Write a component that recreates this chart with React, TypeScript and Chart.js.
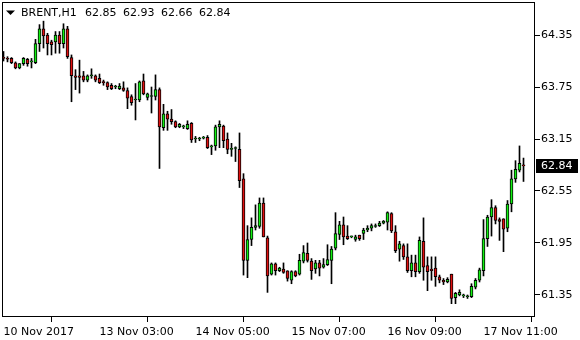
import { useEffect, useRef } from 'react';
import { Chart, registerables } from 'chart.js';

Chart.register(...registerables);

const SYMBOL = 'BRENT,H1';

const opens = [
  64.09, 64.08, 64.08, 64.03, 63.97, 64.02, 64.07, 64.04, 64.03, 64.25,
  64.42, 64.35, 64.27, 64.27, 64.35, 64.25, 64.42, 64.09, 63.88, 63.88,
  63.88, 63.83, 63.88, 63.88, 63.85, 63.81, 63.80, 63.77, 63.75, 63.73,
  63.74, 63.71, 63.64, 63.60, 63.60, 63.82, 63.63, 63.64, 63.64, 63.72,
  63.28, 63.44, 63.38, 63.35, 63.29, 63.29, 63.27, 63.33, 63.15, 63.15,
  63.16, 63.17, 63.06, 63.07, 63.29, 63.30, 63.15, 63.03, 63.04, 63.03,
  62.69, 61.75, 61.99, 62.13, 62.14, 62.41, 62.01, 61.59, 61.71, 61.63,
  61.65, 61.63, 61.52, 61.62, 61.59, 61.74, 61.83, 61.74, 61.65, 61.72,
  61.67, 61.70, 61.75, 61.89, 62.05, 62.16, 62.03, 62.02, 61.99, 62.04,
  62.06, 62.10, 62.12, 62.14, 62.15, 62.18, 62.19, 62.29, 62.08, 61.88,
  61.92, 61.79, 61.63, 61.72, 61.62, 61.97, 61.69, 61.65, 61.66, 61.56,
  61.52, 61.50, 61.59, 61.32, 61.35, 61.34, 61.33, 61.33, 61.44, 61.52,
  61.63, 62.00, 62.25, 62.36, 62.22, 62.23, 62.12, 62.40, 62.69, 62.79,
  62.85,
];
const highs = [
  64.16, 64.10, 64.09, 64.04, 64.02, 64.09, 64.08, 64.08, 64.30, 64.47,
  64.51, 64.37, 64.29, 64.39, 64.39, 64.48, 64.45, 64.12, 63.95, 64.06,
  63.93, 63.89, 63.96, 63.89, 63.90, 63.83, 63.81, 63.79, 63.77, 63.79,
  63.81, 63.74, 63.66, 63.79, 63.82, 63.90, 63.68, 63.75, 63.89, 63.74,
  63.55, 63.47, 63.49, 63.36, 63.33, 63.31, 63.36, 63.34, 63.18, 63.17,
  63.18, 63.19, 63.08, 63.31, 63.36, 63.31, 63.22, 63.10, 63.06, 63.22,
  62.75, 62.15, 62.24, 62.39, 62.47, 62.47, 62.03, 61.72, 61.72, 61.67,
  61.72, 61.63, 61.63, 61.63, 61.82, 61.92, 61.95, 61.77, 61.75, 61.75,
  61.77, 61.93, 61.91, 62.30, 62.20, 62.25, 62.15, 62.03, 62.04, 62.04,
  62.12, 62.15, 62.17, 62.17, 62.20, 62.21, 62.31, 62.30, 62.15, 61.97,
  61.94, 61.94, 61.81, 61.81, 62.02, 62.24, 61.79, 61.79, 61.79, 61.58,
  61.54, 61.55, 61.59, 61.38, 61.41, 61.36, 61.35, 61.48, 61.54, 61.66,
  62.22, 62.27, 62.45, 62.38, 62.24, 62.23, 62.44, 62.79, 62.90, 63.07,
  62.93,
];
const lows = [
  64.05, 64.04, 64.02, 63.96, 63.96, 64.00, 63.99, 63.97, 64.02, 64.16,
  64.20, 64.12, 64.12, 64.14, 64.14, 64.20, 64.08, 63.58, 63.72, 63.68,
  63.81, 63.81, 63.85, 63.81, 63.79, 63.77, 63.72, 63.72, 63.73, 63.72,
  63.70, 63.50, 63.54, 63.37, 63.58, 63.66, 63.60, 63.45, 63.60, 62.81,
  63.25, 63.25, 63.32, 63.28, 63.28, 63.27, 63.26, 63.11, 63.11, 63.13,
  63.15, 63.04, 62.97, 63.02, 63.05, 63.05, 62.98, 62.95, 62.89, 62.59,
  61.58, 61.55, 61.92, 62.10, 62.12, 62.02, 61.38, 61.58, 61.58, 61.62,
  61.60, 61.51, 61.48, 61.56, 61.58, 61.72, 61.73, 61.53, 61.60, 61.57,
  61.66, 61.69, 61.48, 61.87, 61.99, 61.93, 61.99, 62.01, 61.97, 61.98,
  61.99, 62.08, 62.09, 62.13, 62.14, 62.17, 62.10, 62.07, 61.84, 61.74,
  61.76, 61.61, 61.56, 61.56, 61.60, 61.52, 61.40, 61.52, 61.45, 61.49,
  61.47, 61.49, 61.25, 61.25, 61.34, 61.32, 61.31, 61.32, 61.42, 61.50,
  61.57, 61.91, 62.03, 62.17, 61.98, 61.85, 62.08, 62.31, 62.65, 62.77,
  62.66,
];
const closes = [
  64.08, 64.07, 64.03, 63.97, 64.02, 64.08, 64.02, 64.04, 64.25, 64.42,
  64.34, 64.25, 64.24, 64.35, 64.25, 64.42, 64.10, 63.88, 63.86, 63.86,
  63.83, 63.88, 63.88, 63.83, 63.80, 63.80, 63.75, 63.73, 63.75, 63.76,
  63.71, 63.62, 63.57, 63.60, 63.81, 63.67, 63.67, 63.64, 63.72, 63.29,
  63.44, 63.38, 63.35, 63.29, 63.32, 63.29, 63.32, 63.14, 63.15, 63.15,
  63.17, 63.05, 63.06, 63.29, 63.32, 63.13, 63.03, 63.03, 63.04, 62.67,
  61.75, 61.99, 62.13, 62.15, 62.41, 62.02, 61.57, 61.71, 61.63, 61.66,
  61.61, 61.54, 61.62, 61.57, 61.75, 61.84, 61.75, 61.63, 61.72, 61.66,
  61.70, 61.76, 61.88, 62.06, 62.16, 62.02, 62.00, 62.02, 62.02, 62.00,
  62.10, 62.12, 62.15, 62.15, 62.18, 62.20, 62.30, 62.09, 61.86, 61.94,
  61.79, 61.63, 61.72, 61.62, 61.98, 61.67, 61.62, 61.63, 61.56, 61.52,
  61.50, 61.53, 61.31, 61.37, 61.38, 61.34, 61.33, 61.45, 61.52, 61.64,
  62.00, 62.25, 62.36, 62.21, 62.20, 62.11, 62.40, 62.69, 62.80, 62.87,
  62.84,
];

const xTickBars = [0, 24, 48, 72, 96, 120];
const xTickLabels = ['10 Nov 2017', '13 Nov 03:00', '14 Nov 05:00', '15 Nov 07:00', '16 Nov 09:00', '17 Nov 11:00'];
const yTickValues = [61.35, 61.95, 62.55, 63.15, 63.75, 64.35];

const BULL = '#12f012';
const BEAR = '#e01010';
const FONT = '"DejaVu Sans", sans-serif';

export default function App() {
  const ref = useRef<HTMLCanvasElement>(null);

  useEffect(() => {
    if (!ref.current) return;
    const bodies = opens.map((o, i) => ({ x: i, y: [o, closes[i]] }));
    const wicks = opens.map((_, i) => ({ x: i, y: [lows[i], highs[i]] }));
    const bodyColors = opens.map((o, i) => (closes[i] >= o ? BULL : BEAR));

    const overlay = {
      id: 'mt4overlay',
      afterDraw(chart: any) {
        const { ctx, chartArea } = chart;
        const { left, top, right, bottom } = chartArea;
        ctx.save();
        // frame
        ctx.strokeStyle = '#000';
        ctx.lineWidth = 1;
        ctx.strokeRect(left + 0.5, top + 0.5, right - left - 1, bottom - top - 1);
        // header
        ctx.fillStyle = '#000';
        ctx.beginPath();
        ctx.moveTo(6, 10.5);
        ctx.lineTo(15, 10.5);
        ctx.lineTo(10.5, 15);
        ctx.closePath();
        ctx.fill();
        ctx.font = '11px ' + FONT;
        ctx.textBaseline = 'middle';
        ctx.textAlign = 'left';
        ctx.fillText(SYMBOL, 21, 13);
        const last = opens.length - 1;
        const vals = [opens[last], highs[last], lows[last], closes[last]].map((v) => v.toFixed(2));
        let x = 85;
        for (const s of vals) {
          ctx.fillText(s, x, 13);
          x += ctx.measureText(s).width + 6.5;
        }
        // last price label
        const y = chart.scales.y.getPixelForValue(closes[last]);
        ctx.fillStyle = '#000';
        ctx.fillRect(536, Math.round(y) - 7, 42, 14);
        ctx.fillStyle = '#fff';
        ctx.fillText(closes[last].toFixed(2), 541, Math.round(y));
        ctx.restore();
      },
    };

    const chart = new Chart(ref.current, {
      type: 'bar',
      data: {
        datasets: [
          {
            data: bodies as any,
            backgroundColor: bodyColors,
            borderColor: '#000',
            borderWidth: 1,
            borderSkipped: false,
            barThickness: 3,
            minBarLength: 1,
            grouped: false,
          } as any,
          {
            data: wicks as any,
            backgroundColor: '#000',
            borderWidth: 0,
            barThickness: 1,
            grouped: false,
          } as any,
        ],
      },
      options: {
        animation: false,
        responsive: false,
        maintainAspectRatio: false,
        events: [],
        layout: { padding: { left: 2, top: 2, right: 0, bottom: 0 } },
        plugins: { legend: { display: false }, tooltip: { enabled: false }, title: { display: false } },
        scales: {
          x: {
            type: 'linear',
            min: -0.375,
            max: 132.875,
            offset: false,
            afterBuildTicks: (scale: any) => {
              scale.ticks = xTickBars.map((v) => ({ value: v }));
            },
            afterFit: (scale: any) => {
              scale.height = 23;
              scale.paddingLeft = 0;
              scale.paddingRight = 0;
              scale.paddingTop = 0;
              scale.paddingBottom = 0;
            },
            grid: { display: true, drawOnChartArea: false, drawTicks: true, tickLength: 5, color: '#000' },
            border: { display: false },
            ticks: {
              align: 'start',
              autoSkip: false,
              maxRotation: 0,
              minRotation: 0,
              padding: 4,
              color: '#000',
              font: { family: FONT, size: 11 },
              callback: (v: any) => {
                const k = xTickBars.indexOf(Number(v));
                return k >= 0 ? xTickLabels[k] : '';
              },
            },
          },
          y: {
            type: 'linear',
            position: 'right',
            min: 61.096,
            max: 64.731,
            afterBuildTicks: (scale: any) => {
              scale.ticks = yTickValues.map((v) => ({ value: v }));
            },
            afterFit: (scale: any) => {
              scale.width = 45;
              scale.paddingLeft = 0;
              scale.paddingRight = 0;
              scale.paddingTop = 0;
              scale.paddingBottom = 0;
            },
            grid: { display: true, drawOnChartArea: false, drawTicks: true, tickLength: 5, color: '#000' },
            border: { display: false },
            ticks: {
              padding: 1,
              color: '#000',
              font: { family: FONT, size: 11 },
              callback: (v: any) => Number(v).toFixed(2),
            },
          },
        },
      },
      plugins: [overlay],
    } as any);

    return () => chart.destroy();
  }, []);

  return (
    <div style={{ position: 'fixed', left: 0, top: 0, width: 580, height: 340, background: '#fff' }}>
      <canvas ref={ref} width={580} height={340} style={{ display: 'block' }} />
    </div>
  );
}
